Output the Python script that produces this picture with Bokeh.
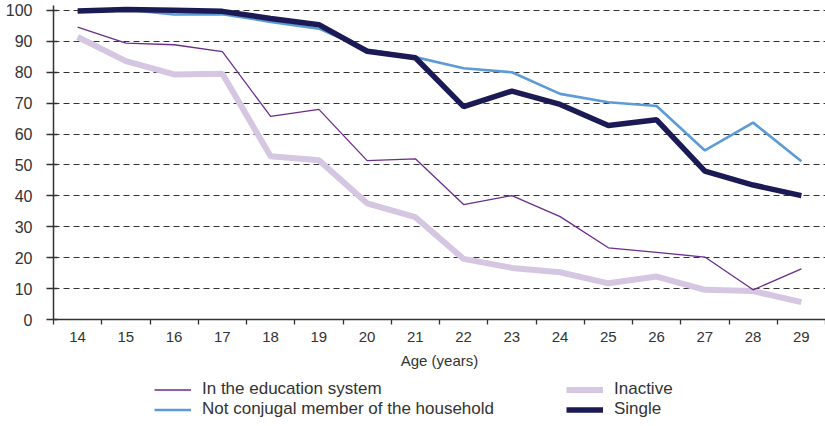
from bokeh.plotting import figure
from bokeh.layouts import column
from bokeh.models import FixedTicker, Legend, LegendItem, Range1d
from bokeh.embed import file_html
from bokeh.resources import INLINE

ages = list(range(14, 30))
education = [94.6, 89.4, 88.9, 86.7, 65.7, 68.0, 51.4, 52.0, 37.2, 40.1, 33.3, 23.2, 21.7, 20.2, 9.6, 16.4]
not_conjugal = [99.8, 100.2, 98.7, 98.8, 96.3, 94.1, 87.3, 84.9, 81.3, 80.0, 73.0, 70.3, 69.1, 54.7, 63.7, 51.2]
inactive = [91.4, 83.6, 79.3, 79.5, 52.8, 51.5, 37.6, 33.1, 19.6, 16.7, 15.3, 11.7, 13.9, 9.6, 9.2, 5.6]
single = [99.8, 100.3, 100.1, 99.7, 97.4, 95.4, 86.8, 84.7, 68.9, 73.9, 69.6, 62.8, 64.6, 48.0, 43.5, 40.1]
y_ticks = list(range(0, 101, 10))

series = [
    ("In the education system", education, "#6b2d8c", 1.3),
    ("Not conjugal member of the household", not_conjugal, "#5c9bd5", 2.6),
    ("Inactive", inactive, "#d5c6e1", 6),
    ("Single", single, "#1b1a55", 5.5),
]
draw_order = [2, 0, 1, 3]

FONT = "Liberation Sans"
TXT = "#333333"

p = figure(width=825, height=376,
           x_range=Range1d(ages[0] - 0.5, ages[-1] + 0.5),
           y_range=Range1d(0, 101.6),
           output_backend="svg", toolbar_location=None,
           min_border_left=53, min_border_right=0,
           min_border_top=5, min_border_bottom=57)
p.outline_line_color = None

# grid
p.xgrid.visible = False
p.ygrid.grid_line_color = "#333333"
p.ygrid.grid_line_dash = "6 4"
p.ygrid.grid_line_width = 1

# y axis
p.yaxis.ticker = FixedTicker(ticks=y_ticks)
p.yaxis.axis_line_color = TXT
p.yaxis.axis_line_width = 1.5
p.yaxis.major_tick_line_color = TXT
p.yaxis.major_tick_line_width = 1.3
p.yaxis.major_tick_out = 7
p.yaxis.major_tick_in = 4
p.yaxis.minor_tick_line_color = None
p.yaxis.major_label_standoff = 14
p.yaxis.major_label_text_font = FONT
p.yaxis.major_label_text_font_size = "16px"
p.yaxis.major_label_text_color = TXT

# x axis
p.xaxis.ticker = FixedTicker(ticks=ages,
                             minor_ticks=[a - 0.5 for a in ages] + [ages[-1] + 0.5])
p.xaxis.axis_line_color = TXT
p.xaxis.axis_line_width = 1.5
p.xaxis.major_tick_line_color = None
p.xaxis.major_tick_out = 0
p.xaxis.major_tick_in = 0
p.xaxis.minor_tick_line_color = TXT
p.xaxis.minor_tick_line_width = 1.3
p.xaxis.minor_tick_out = 5
p.xaxis.minor_tick_in = 0
p.xaxis.major_label_standoff = 7
p.xaxis.major_label_text_font = FONT
p.xaxis.major_label_text_font_size = "15px"
p.xaxis.major_label_text_color = TXT
p.xaxis.axis_label = "Age (years)"
p.xaxis.axis_label_text_font = FONT
p.xaxis.axis_label_text_font_size = "15px"
p.xaxis.axis_label_text_font_style = "normal"
p.xaxis.axis_label_text_color = TXT
p.xaxis.axis_label_standoff = 7

for i in draw_order:
    name, vals, color, lw = series[i]
    p.line(ages, vals, line_color=color, line_width=lw)

# legend strip: separate figure whose renderers use the same styles;
# its ranges lie outside the data, so only the legend is visible
lf = figure(width=825, height=50, output_backend="svg", toolbar_location=None,
            x_axis_location=None, y_axis_location=None,
            min_border_left=53, min_border_right=0, min_border_top=0, min_border_bottom=0,
            x_range=Range1d(0, 1), y_range=Range1d(0, 1))
lf.outline_line_color = None
lf.grid.visible = False
lrs = [lf.line(ages, vals, line_color=c, line_width=w) for (_, vals, c, w) in series]

def make_legend(idx, loc):
    return Legend(items=[LegendItem(label=series[i][0], renderers=[lrs[i]]) for i in idx],
                  location=loc, orientation="vertical",
                  glyph_width=37, glyph_height=19, label_height=19,
                  label_standoff=11, spacing=0, padding=0, margin=0,
                  border_line_color=None, background_fill_alpha=0,
                  label_text_font=FONT, label_text_font_size="17px",
                  label_text_color=TXT)

lf.add_layout(make_legend([0, 1], (101, 7)))
lf.add_layout(make_legend([2, 3], (513, 7)))

layout = column(p, lf, spacing=0)
open("out.html", "w").write(file_html(layout, INLINE))
